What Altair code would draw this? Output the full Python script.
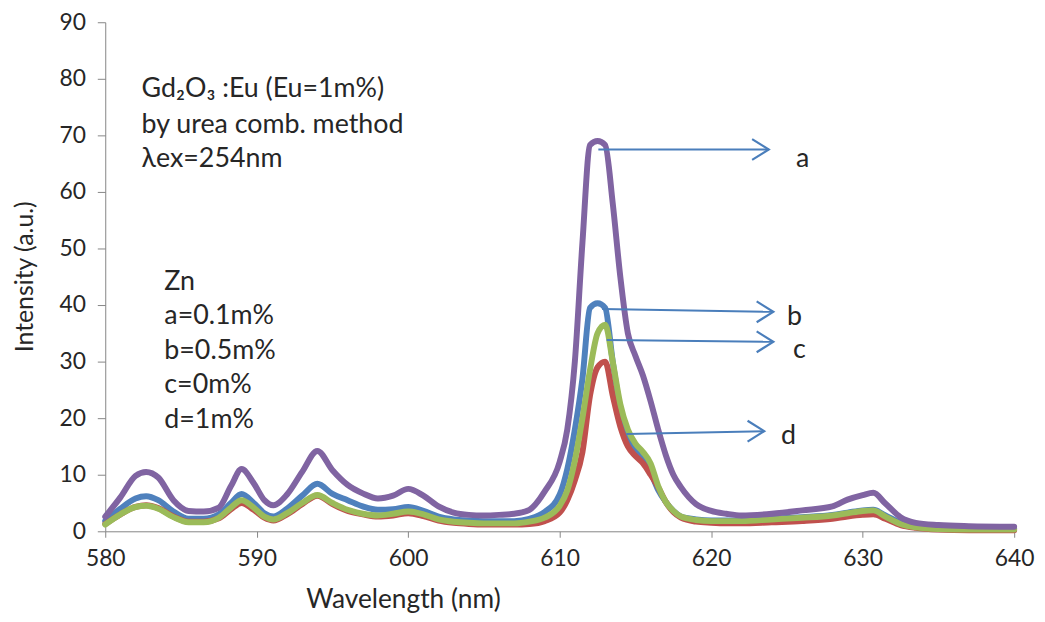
import altair as alt
import pandas as pd

# ---------------- data ----------------
wavelength = [580, 581, 582, 582.7, 583.5, 584.5, 585.5, 586.5, 587.5, 588.3, 589, 589.8,
              590.5, 591.1, 592, 593, 594, 595, 596, 597, 598, 599, 600, 601, 602, 603,
              604, 605, 606, 607, 608, 609, 610, 610.5, 611, 611.5, 612, 612.5, 613, 613.5,
              614, 614.5, 615, 615.5, 616, 616.5, 617, 617.5, 618, 619, 620, 621, 622, 624,
              626, 628, 629, 630, 630.7, 631.5, 632.5, 633.5, 635, 637, 640]

series_a = [2.6, 6.0, 9.8, 10.5, 9.5, 5.5, 3.6, 3.5, 4.2, 8.0, 11.0, 8.5,
            5.5, 4.6, 6.5, 10.5, 14.2, 10.8, 8.2, 6.7, 5.8, 6.3, 7.5, 6.3, 4.4, 3.3,
            2.9, 2.8, 2.9, 3.1, 3.8, 7.0, 12.3, 18.0, 30.0, 51.0, 68.3, 69.0, 68.3, 58.0,
            45.0, 35.0, 31.0, 27.5, 23.0, 18.0, 13.5, 10.0, 7.8, 4.8, 3.6, 3.1, 2.8, 3.1,
            3.7, 4.4, 5.6, 6.4, 6.8, 4.9, 2.5, 1.5, 1.1, 0.9, 0.8]

series_b = [1.8, 4.0, 5.8, 6.2, 5.5, 3.5, 2.2, 2.2, 3.0, 5.0, 6.6, 5.0,
            3.2, 2.6, 4.0, 6.3, 8.4, 6.6, 5.5, 4.4, 3.8, 3.9, 4.3, 3.6, 2.6, 2.1,
            1.9, 1.8, 1.8, 1.8, 2.2, 3.4, 6.5, 11.0, 18.0, 27.0, 39.5, 40.3, 39.5, 30.0,
            21.5, 16.5, 14.5, 13.2, 10.5, 7.3, 5.2, 3.6, 2.6, 2.1, 1.9, 1.9, 1.9, 2.2,
            2.5, 2.9, 3.3, 3.7, 3.8, 2.8, 1.5, 0.9, 0.6, 0.5, 0.5]

series_c = [1.2, 3.0, 4.3, 4.5, 4.0, 2.5, 1.6, 1.6, 2.4, 4.2, 5.5, 4.2,
            2.6, 2.1, 3.2, 5.0, 6.4, 5.0, 3.8, 3.1, 2.8, 3.1, 3.5, 3.0, 2.1, 1.7,
            1.5, 1.4, 1.4, 1.4, 1.7, 2.4, 4.5, 7.2, 12.5, 20.0, 28.5, 35.0, 36.5, 30.0,
            22.5, 18.0, 15.5, 14.0, 12.0, 8.0, 5.2, 3.6, 2.6, 2.0, 1.8, 1.8, 1.8, 2.1,
            2.4, 2.8, 3.2, 3.6, 3.7, 2.6, 1.3, 0.7, 0.4, 0.3, 0.3]

series_d = [1.3, 3.0, 4.3, 4.6, 4.1, 2.6, 1.7, 1.7, 2.3, 3.9, 5.0, 3.8,
            2.4, 1.9, 3.0, 4.8, 6.3, 4.8, 3.6, 3.0, 2.6, 2.8, 3.2, 2.7, 1.9, 1.5,
            1.3, 1.2, 1.2, 1.2, 1.3, 1.8, 3.3, 5.5, 9.0, 14.0, 24.0, 29.0, 30.0, 24.0,
            18.5, 15.0, 13.3, 12.0, 10.0, 7.8, 5.2, 3.4, 2.4, 1.7, 1.5, 1.4, 1.4, 1.6,
            1.8, 2.2, 2.6, 2.9, 3.0, 2.2, 1.1, 0.6, 0.3, 0.2, 0.2]

series_names = ["a", "b", "c", "d"]
series_colors = {"a": "#8064A2", "b": "#4F81BD", "c": "#9BBB59", "d": "#C0504D"}
draw_order = ["b", "d", "c", "a"]

# arrow annotations (data coordinates)
arrow_label = ["a", "b", "c", "d"]
arrow_x0 = [612.55, 612.8, 613.1, 614.4]
arrow_x1 = [623.8, 624.1, 624.1, 623.5]
arrow_y0 = [67.5, 39.3, 33.8, 17.2]
arrow_y1 = [67.5, 38.8, 33.5, 17.7]
label_x = [625.6, 625.0, 625.4, 624.6]
label_y = [65.8, 37.9, 32.1, 16.8]

info_lines = ["Gd\u2082O\u2083 :Eu (Eu=1m%)", "by urea comb. method", "\u03bbex=254nm"]
info_y = [78.1, 71.9, 65.8]
info_x = 582.4

zn_lines = ["Zn", "a=0.1m%", "b=0.5m%", "c=0m%", "d=1m%"]
zn_y = [44.0, 38.1, 31.9, 25.8, 19.6]
zn_x = 583.9

x_ticks = [580, 590, 600, 610, 620, 630, 640]
y_ticks = [0, 10, 20, 30, 40, 50, 60, 70, 80, 90]

# ---------------- build ----------------
all_series = {"a": series_a, "b": series_b, "c": series_c, "d": series_d}
rows = []
for name in series_names:
    for w, v in zip(wavelength, all_series[name]):
        rows.append({"wl": w, "I": v, "s": name})
df = pd.DataFrame(rows)

FONT = "Lato"
TXT = "#262626"
ANN = 27

xscale = alt.Scale(domain=[580, 640], nice=False)
yscale = alt.Scale(domain=[0, 90], nice=False)

xaxis = alt.Axis(values=x_ticks, title="Wavelength (nm)", grid=False, labelFlush=False,
                 domainColor="#868686", tickColor="#868686", tickSize=6,
                 labelFont=FONT, labelFontSize=23, labelColor=TXT, labelPadding=10,
                 titleFont=FONT, titleFontSize=26.5, titleFontWeight="normal", titleColor=TXT,
                 titleX=300, titleY=69, titleAnchor="middle", titleAlign="center",
                 titleBaseline="middle")
yaxis = alt.Axis(values=y_ticks, title="Intensity (a.u.)", grid=False, labelFlush=False,
                 domainColor="#868686", tickColor="#868686", tickSize=8,
                 labelFont=FONT, labelFontSize=23, labelColor=TXT, labelPadding=12,
                 titleFont=FONT, titleFontSize=25, titleFontWeight="normal", titleColor=TXT,
                 titleX=-81, titleY=256, titleAngle=-90, titleAlign="center",
                 titleBaseline="middle")


def X(field):
    return alt.X(field, scale=xscale, axis=xaxis)


def Y(field):
    return alt.Y(field, scale=yscale, axis=yaxis)


layers = []
for name in draw_order:
    layers.append(
        alt.Chart(df).transform_filter(alt.datum.s == name)
        .mark_line(interpolate="monotone", strokeWidth=6, color=series_colors[name],
                   strokeCap="round", strokeJoin="round")
        .encode(x=X("wl:Q"), y=Y("I:Q"))
    )

arr = pd.DataFrame({"lab": arrow_label, "x0": arrow_x0, "x1": arrow_x1,
                    "y0": arrow_y0, "y1": arrow_y1, "lx": label_x, "ly": label_y})

ARROW = "#4A7EBB"
arrow_lines = alt.Chart(arr).mark_rule(color=ARROW, strokeWidth=2).encode(
    x=X("x0:Q"), x2="x1:Q", y=Y("y0:Q"), y2="y1:Q")
arrow_heads = alt.Chart(arr).mark_point(
    shape="M -1.6 -1 L 0 0 L -1.6 1", filled=False, size=440,
    color=ARROW, strokeWidth=2.2, opacity=1).encode(
    x=X("x1:Q"), y=Y("y1:Q"))
arrow_text = alt.Chart(arr).mark_text(
    font=FONT, fontSize=ANN, color=TXT, align="left", baseline="middle").encode(
    x=X("lx:Q"), y=Y("ly:Q"), text="lab:N")

info_df = pd.DataFrame({"t": info_lines, "y": info_y, "x": [info_x] * len(info_lines)})
info_text = alt.Chart(info_df).mark_text(
    font=FONT, fontSize=ANN, color=TXT, align="left", baseline="middle").encode(
    x=X("x:Q"), y=Y("y:Q"), text="t:N")

zn_df = pd.DataFrame({"t": zn_lines, "y": zn_y, "x": [zn_x] * len(zn_lines)})
zn_text = alt.Chart(zn_df).mark_text(
    font=FONT, fontSize=ANN, color=TXT, align="left", baseline="middle").encode(
    x=X("x:Q"), y=Y("y:Q"), text="t:N")

chart = alt.layer(*layers, arrow_lines, arrow_heads, arrow_text, info_text, zn_text).properties(
    width=916, height=513,
    padding={"left": 98, "top": 12, "right": 23, "bottom": 81},
    autosize=alt.AutoSizeParams(type="none"),
    background="white",
).configure_view(stroke=None)

chart.save("out.html", embed_options={"renderer": "svg", "actions": False})
